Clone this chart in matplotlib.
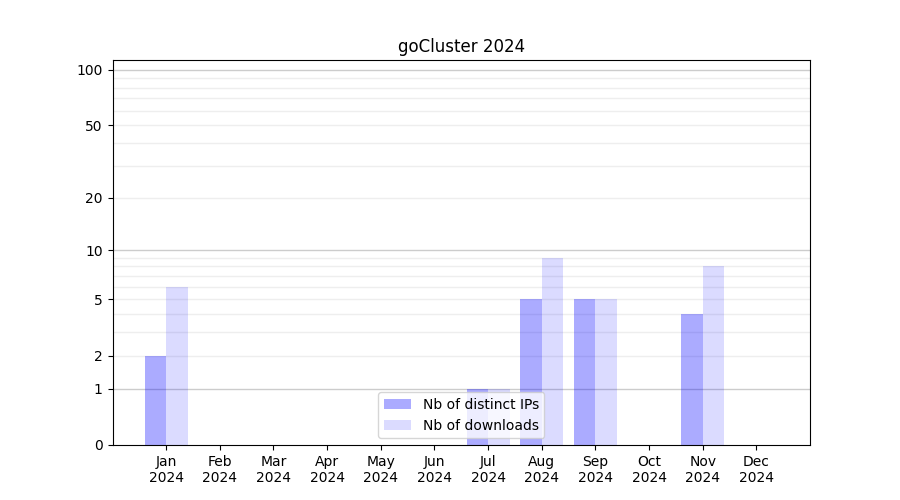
import matplotlib
matplotlib.use("Agg")
import matplotlib.pyplot as plt
import numpy as np

# data
months = ['Jan', 'Feb', 'Mar', 'Apr', 'May', 'Jun', 'Jul', 'Aug', 'Sep', 'Oct', 'Nov', 'Dec']
year = '2024'
distinct_ips = [2, 0, 0, 0, 0, 0, 1, 5, 5, 0, 4, 0]
downloads = [6, 0, 0, 0, 0, 0, 1, 9, 5, 0, 8, 0]
y_ticks = [0, 1, 2, 5, 10, 20, 50, 100]


def forward(v):
    return np.log10(1 + np.clip(v, 0, None))


def inverse(v):
    return 10 ** v - 1


fig, ax = plt.subplots(figsize=(9, 5))
x = np.arange(len(months))

ax.bar(x, distinct_ips, width=-0.4, align='edge', color='blue', alpha=0.33,
       label='Nb of distinct IPs')
ax.bar(x, downloads, width=0.4, align='edge', color='blue', alpha=0.14,
       label='Nb of downloads')

ax.set_yscale('function', functions=(forward, inverse))
ax.set_ylim(0, 113)
ax.set_xlim(-1, 12)

ax.set_yticks(y_ticks)
ax.set_yticklabels([str(t) for t in y_ticks])

# grid lines: darker for decades, light for the rest
major_lines = [1, 10, 100]
minor_lines = [v for v in list(range(2, 10)) + list(range(20, 100, 10))]
for v in major_lines:
    ax.axhline(v, color='#cccccc', linewidth=1, zorder=0)
for v in minor_lines:
    ax.axhline(v, color='#eeeeee', linewidth=1, zorder=0)

ax.set_xticks(x)
ax.set_xticklabels([f'{m}\n{year}' for m in months])
ax.set_title('goCluster 2024')
ax.legend(loc='lower center')

fig.savefig('out.png', dpi=100)
